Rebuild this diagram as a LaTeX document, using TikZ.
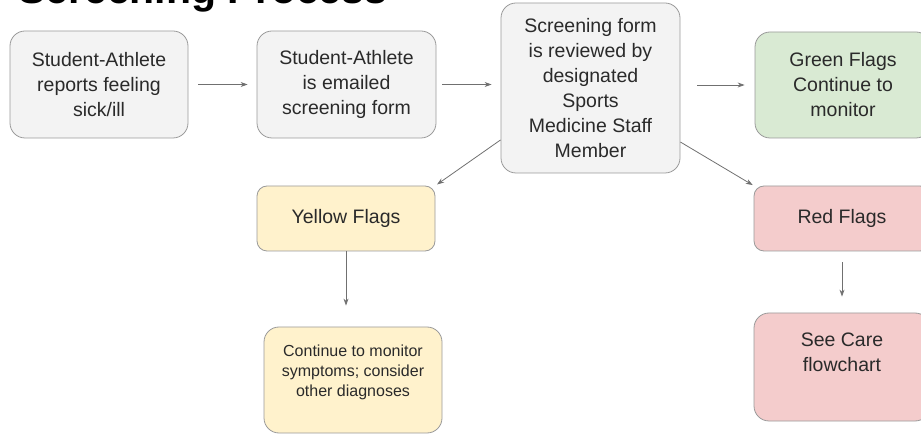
\documentclass[tikz,border=0pt]{standalone}
\usepackage{fontspec}
\setmainfont{Liberation Sans}
\usetikzlibrary{arrows.meta}
\definecolor{boxgray}{HTML}{F3F3F3}
\definecolor{boxgreen}{HTML}{D9EAD3}
\definecolor{boxyellow}{HTML}{FFF2CC}
\definecolor{boxred}{HTML}{F4CCCC}
\definecolor{edgegray}{HTML}{9A9A9A}
\definecolor{arrowgray}{HTML}{707070}
\definecolor{txt}{HTML}{2A2A2A}
\tikzset{
  flowbox/.style={draw=edgegray, line width=0.8pt, rounded corners=15pt, align=center,
    text=txt, inner sep=0pt, font=\fontsize{19.5}{25}\selectfont},
  grayb/.style={flowbox, fill=boxgray},
  greenb/.style={flowbox, fill=boxgreen},
  yellowb/.style={flowbox, fill=boxyellow},
  redb/.style={flowbox, fill=boxred},
  conn/.style={draw=arrowgray, line width=0.8pt, -{Stealth[length=7pt,width=5pt]}}
}
\begin{document}
\begin{tikzpicture}[x=1pt,y=-1pt]
\useasboundingbox (0,0) rectangle (921,435);
\node[anchor=base west, font=\bfseries\fontsize{41}{48}\selectfont, text=black, inner sep=0pt] (title) at (18,4) {Screening Process};

\node[grayb, minimum width=178pt, minimum height=107pt] (b1) at (99,84.5) {Student-Athlete\\reports feeling\\sick/ill};
\node[grayb, minimum width=179pt, minimum height=107pt] (b2) at (346.5,84.5) {Student-Athlete\\is emailed\\screening form};
\node[grayb, minimum width=179pt, minimum height=170pt] (b3) at (590.5,88) {Screening form\\is reviewed by\\designated\\Sports\\Medicine Staff\\Member};
\node[greenb, minimum width=176pt, minimum height=106pt] (g1) at (843,85) {Green Flags\\Continue to\\monitor};
\node[yellowb, rounded corners=10pt, minimum width=178pt, minimum height=65pt] (y1) at (346,218.5) {Yellow Flags};
\node[yellowb, minimum width=178pt, minimum height=106pt, font=\fontsize{16}{20}\selectfont, text depth=19pt] (y2) at (353,380) {Continue to monitor\\symptoms; consider\\other diagnoses};
\node[redb, rounded corners=10pt, minimum width=176pt, minimum height=65pt] (r1) at (842,218.5) {Red Flags};
\node[redb, minimum width=176pt, minimum height=108pt, text depth=29pt] (r2) at (842,367) {See Care\\flowchart};

\draw[conn, shorten <=10pt, shorten >=9pt] (b1.east) -- (b2.west);
\draw[conn, shorten <=6pt, shorten >=9pt] (b2.east) -- (b2.east -| b3.west);
\draw[conn, shorten <=17pt, shorten >=10pt] (b3.east |- g1.west) -- (g1.west);
\draw[conn, shorten >=2pt] (b3.210) -- (y1.north east);
\draw[conn, shorten >=1pt] (b3.-31) -- (r1.north west);
\draw[conn, shorten >=21pt] (y1.south) -- (y1.south |- y2.north);
\draw[conn, shorten <=11pt, shorten >=16pt] (r1.south) -- (r1.south |- r2.north);
\end{tikzpicture}
\end{document}
